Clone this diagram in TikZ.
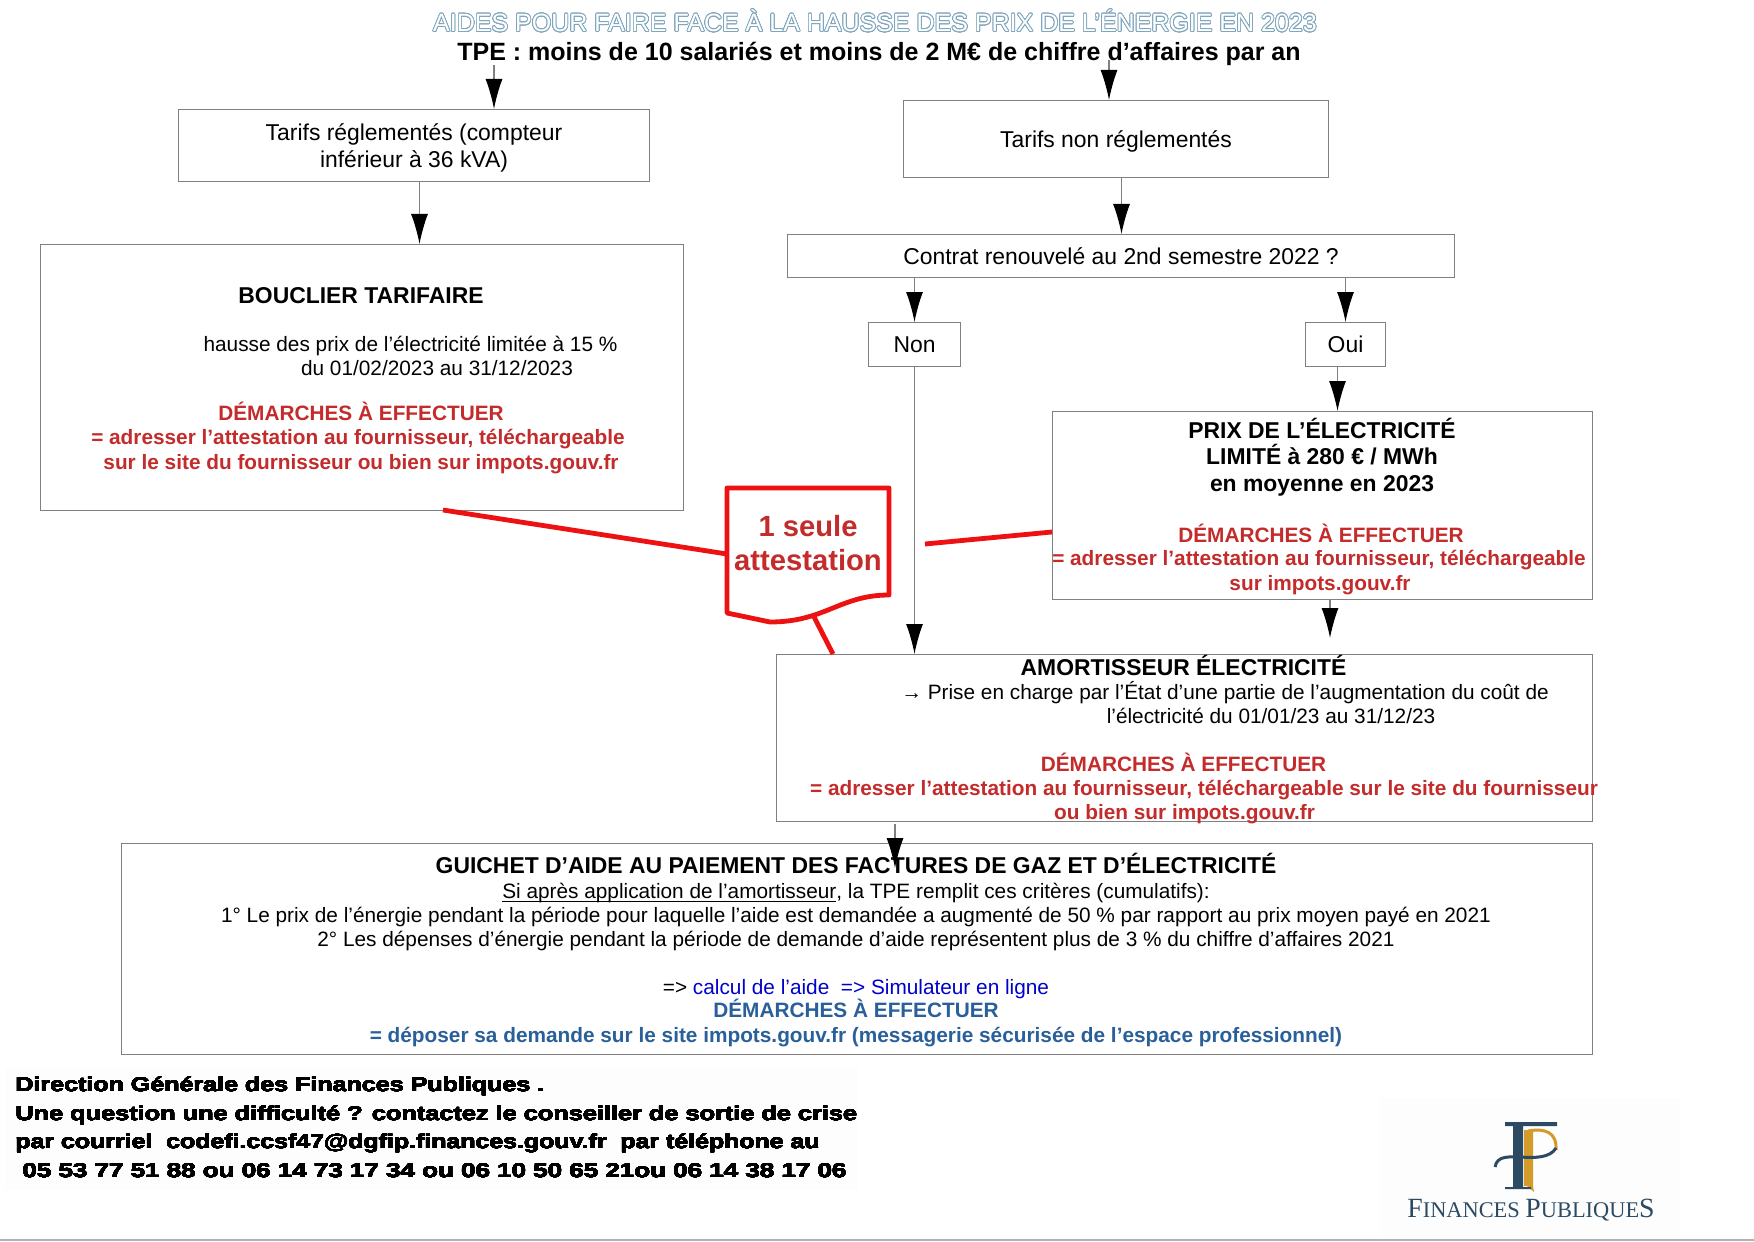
\documentclass[tikz,border=0pt]{standalone}
\usepackage{fontspec}
\setmainfont{Liberation Sans}
\newfontfamily\logofont{Liberation Serif}
\usepackage[copies]{contour}
\usetikzlibrary{arrows.meta}
\contournumber{24}
\definecolor{aideRed}{HTML}{C42B2B}
\definecolor{aideLine}{HTML}{EE1111}
\definecolor{aideBlue}{HTML}{2A6099}
\definecolor{aideLink}{HTML}{0000CC}
\definecolor{aideGray}{HTML}{808080}
\definecolor{aideOutline}{HTML}{7FA6BC}
\definecolor{aideNavy}{HTML}{2C4A62}
\definecolor{aideGold}{HTML}{D49A2A}
\newcommand{\titretexte}[1]{\contourlength{0.4pt}\contour{aideOutline}{\textcolor{white}{#1}}}
\newcommand{\piedtexte}[1]{\contourlength{0.07pt}\contour{black}{#1}}
\tikzset{
  aide box/.style={draw=aideGray, line width=0.5pt, fill=white, anchor=north west, inner sep=0pt, align=center, text depth=0pt, font=\fontsize{11.45}{13.4}\selectfont},
  aide flow/.style={draw=aideGray, line width=0.6pt, -{Latex[black,length=15pt,width=8.5pt]}},
  aide link/.style={draw=aideLine, line width=2.4pt},
  aide text/.style={inner sep=0pt, text height=10pt, text depth=2.2pt, font=\fontsize{10.4}{12}\selectfont},
  aide head/.style={inner sep=0pt, text height=11pt, text depth=2.4pt, font=\bfseries\fontsize{11.45}{13.4}\selectfont},
  aide red/.style={aide text, text=aideRed, font=\bfseries\fontsize{10.4}{12}\selectfont},
  aide blue/.style={aide text, text=aideBlue, font=\bfseries\fontsize{10.4}{12}\selectfont},
  aide foot/.style={inner sep=0pt, anchor=west, font=\bfseries\fontsize{10}{11}\selectfont},
}
\begin{document}
\begin{tikzpicture}[x=0.5pt,y=-0.5pt]
  \useasboundingbox (0,0) rectangle (1754,1241);
  \fill[black!0.6] (5,1068) rectangle (858,1190);
  \fill[black!0.6] (1380,1098) rectangle (1680,1238);
  \draw[black!30, line width=0.8pt] (0,1240) -- (1754,1240);

  \node[aide head, font=\fontsize{12.5}{14}\selectfont] (titre) at (875,23) {\titretexte{AIDES POUR FAIRE FACE À LA HAUSSE DES PRIX DE L’ÉNERGIE EN 2023}};
  \node[aide head, font=\bfseries\fontsize{12.5}{14}\selectfont] (tpe) at (879,52) {TPE : moins de 10 salariés et moins de 2 M€ de chiffre d’affaires par an};

  \node[aide box, minimum width=235.5pt, minimum height=36pt] (tarifs) at (178,109) {Tarifs réglementés (compteur\\inférieur à 36 kVA)};
  \node[aide box, minimum width=212.5pt, minimum height=38.5pt] (nontarifs) at (903,100) {Tarifs non réglementés};
  \node[aide box, minimum width=333.5pt, minimum height=21.5pt] (contrat) at (787,234) {Contrat renouvelé au 2nd semestre 2022 ?};
  \node[aide box, minimum width=46pt, minimum height=22pt] (non) at (868,322) {Non};
  \node[aide box, minimum width=40pt, minimum height=22pt] (oui) at (1305,322) {Oui};
  \node[aide box, minimum width=321.5pt, minimum height=133pt] (bouclier) at (40,244) {};
  \node[aide box, minimum width=270pt, minimum height=94pt] (prix) at (1052,411) {};
  \node[aide box, minimum width=408pt, minimum height=83.5pt] (amort) at (776,654) {};
  \node[aide box, minimum width=735.5pt, minimum height=105.5pt] (guichet) at (121,843) {};

  \coordinate (tpeG) at (494,65);
  \coordinate (tpeD) at (1109,60);
  \coordinate (prixBas) at (1330,638);
  \coordinate (guichetHaut) at (895,824);
  \draw[aide flow] (tpeG) -- (tpeG |- tarifs.north);
  \draw[aide flow] (tpeD) -- (tpeD |- nontarifs.north);
  \draw[aide flow] ([xshift=2.75pt]tarifs.south) -- ([xshift=2.75pt]tarifs.south |- bouclier.north);
  \draw[aide flow] ([xshift=2.75pt]nontarifs.south) -- ([xshift=2.75pt]nontarifs.south |- contrat.north);
  \draw[aide flow] (non.north |- contrat.south) -- (non.north);
  \draw[aide flow] (oui.north |- contrat.south) -- (oui.north);
  \draw[aide flow] ([xshift=-4pt]oui.south) -- ([xshift=-4pt]oui.south |- prix.north);
  \draw[aide flow] (prixBas |- prix.south) -- (prixBas);
  \draw[aide flow] (non.south) -- (non.south |- amort.north);
  \draw[aide flow] (guichetHaut) -- ++(0,44);

  \node[aide head] (bouclierTitre) at (361,295) {BOUCLIER TARIFAIRE};
  \node[aide text] (bouclierA) at (410.5,343.5) {hausse des prix de l’électricité limitée à 15 \%};
  \node[aide text] (bouclierB) at (437,368) {du 01/02/2023 au 31/12/2023};
  \node[aide red] (bouclierC) at (361,413) {DÉMARCHES À EFFECTUER};
  \node[aide red] (bouclierD) at (358,437) {= adresser l’attestation au fournisseur, téléchargeable};
  \node[aide red] (bouclierE) at (361,462) {sur le site du fournisseur ou bien sur impots.gouv.fr};

  \node[aide head] (prixA) at (1322,430) {PRIX DE L’ÉLECTRICITÉ};
  \node[aide head] (prixB) at (1322,456) {LIMITÉ à 280 € / MWh};
  \node[aide head] (prixC) at (1322,483) {en moyenne en 2023};
  \node[aide red] (prixD) at (1321,535) {DÉMARCHES À EFFECTUER};
  \node[aide red] (prixE) at (1319,558) {= adresser l’attestation au fournisseur, téléchargeable};
  \node[aide red] (prixF) at (1320,583) {sur impots.gouv.fr};

  \node[aide head] (amortA) at (1183.5,667) {AMORTISSEUR ÉLECTRICITÉ};
  \node[aide text] (amortB) at (1225,692) {→ Prise en charge par l’État d’une partie de l’augmentation du coût de};
  \node[aide text] (amortC) at (1271,716) {l’électricité du 01/01/23 au 31/12/23};
  \node[aide red] (amortD) at (1183.5,764) {DÉMARCHES À EFFECTUER};
  \node[aide red] (amortE) at (1204,787.5) {= adresser l’attestation au fournisseur, téléchargeable sur le site du fournisseur};
  \node[aide red] (amortF) at (1184.5,812) {ou bien sur impots.gouv.fr};

  \node[aide head] (guichetA) at (856,865) {GUICHET D’AIDE AU PAIEMENT DES FACTURES DE GAZ ET D’ÉLECTRICITÉ};
  \node[aide text] (guichetB) at (856,890.5) {\underline{\smash{Si après application de l’amortisseur}}, la TPE remplit ces critères (cumulatifs):};
  \node[aide text] (guichetC) at (856,915) {1° Le prix de l’énergie pendant la période pour laquelle l’aide est demandée a augmenté de 50 \% par rapport au prix moyen payé en 2021};
  \node[aide text] (guichetD) at (856,938.5) {2° Les dépenses d’énergie pendant la période de demande d’aide représentent plus de 3 \% du chiffre d’affaires 2021};
  \node[aide text] (guichetE) at (856,986.5) {=> \textcolor{aideLink}{calcul de l’aide\ \ => Simulateur en ligne}};
  \node[aide blue] (guichetF) at (856,1010) {DÉMARCHES À EFFECTUER};
  \node[aide blue] (guichetG) at (856,1035) {= déposer sa demande sur le site impots.gouv.fr (messagerie sécurisée de l’espace professionnel)};

  \coordinate (lienBouclier) at (443,510);
  \coordinate (lienDocG) at (727,554);
  \coordinate (lienCentre) at (925,544);
  \coordinate (lienPrix) at (1052,532);
  \coordinate (lienDocB) at (812,613);
  \coordinate (lienAmort) at (833,654);
  \draw[aide link] (lienBouclier) -- (lienDocG);
  \draw[aide link] (lienCentre) -- (lienPrix);
  \draw[aide link] (lienDocB) -- (lienAmort);
  \draw[aide link, line join=round, fill=white] (727,488) -- (889,488) -- (889,595) .. controls (840,595) and (825,622) .. (770,622) -- (727,613) -- cycle;
  \node[text=aideRed, inner sep=0pt, align=center, font=\bfseries\fontsize{14.6}{17}\selectfont] (attestation) at (808,543) {1 seule\\attestation};

  \node[aide foot, xscale=1.252] (piedA) at (15,1086) {\piedtexte{Direction Générale des Finances Publiques .}};
  \node[aide foot, xscale=1.265] (piedB) at (15,1115) {\piedtexte{Une question une difficulté ? contactez le conseiller de sortie de crise}};
  \node[aide foot, xscale=1.245] (piedC) at (15,1143) {\piedtexte{par courriel\ \ codefi.ccsf47@dgfip.finances.gouv.fr\ \ par téléphone au}};
  \node[aide foot, xscale=1.298] (piedD) at (22,1171) {\piedtexte{05 53 77 51 88 ou 06 14 73 17 34 ou 06 10 50 65 21ou 06 14 38 17 06}};

  \fill[aideGold] (1524,1130) -- (1533,1130) -- (1533,1186) -- (1534,1192) -- (1527,1186) -- (1524,1186) -- cycle;
  \draw[aideGold, line width=1.5pt] (1528,1131) .. controls (1545,1128) and (1557,1132) .. (1556,1150);
  \fill[aideNavy] (1505,1122) -- (1557,1122) -- (1557,1126) -- (1523,1126) -- (1523,1187) -- (1531,1187) -- (1531,1189) -- (1505,1189) -- (1505,1187) -- (1513,1187) -- (1513,1126) -- (1505,1126) -- cycle;
  \draw[aideNavy, line width=1.5pt] (1495,1167) .. controls (1497,1155) and (1510,1157) .. (1520,1157) .. controls (1535,1158) and (1550,1158) .. (1556,1148);
  \node[text=aideNavy, inner sep=0pt, font=\logofont\fontsize{11.2}{12}\selectfont] (logoTexte) at (1531,1210) {{\fontsize{13.9}{13}\selectfont F}INANCES {\fontsize{13.9}{13}\selectfont P}UBLIQUE{\fontsize{13.9}{13}\selectfont S}};
\end{tikzpicture}
\end{document}
